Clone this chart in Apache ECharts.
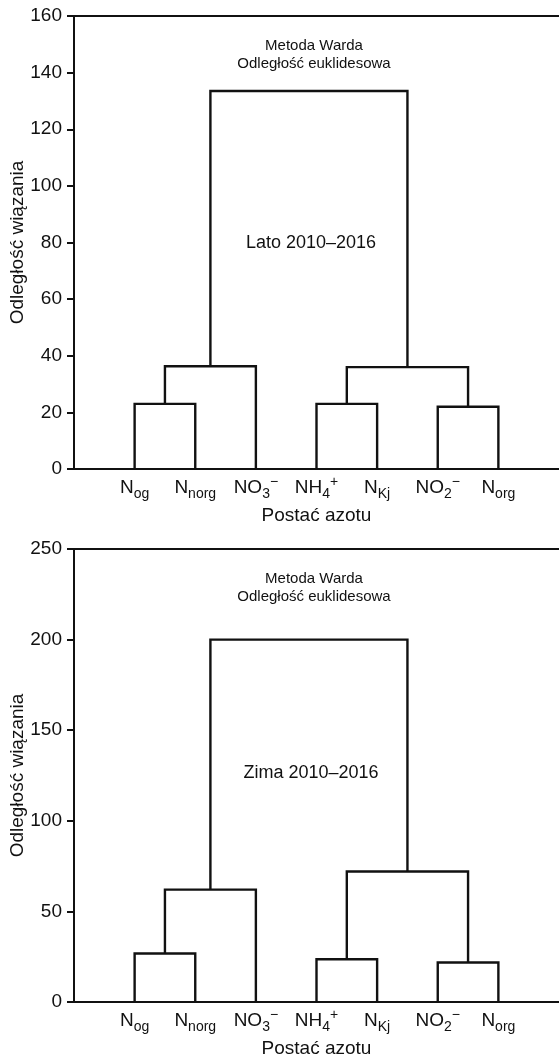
<!DOCTYPE html>
<html>
<head>
<meta charset="utf-8">
<script src="https://cdn.jsdelivr.net/npm/echarts@6/dist/echarts.min.js"></script>
<style>
html,body{margin:0;padding:0;background:#fff;}
#chart{width:559px;height:1059px;}
</style>
</head>
<body>
<div id="chart"></div>
<script>
// Leaves (order along the x axis)
const categories = ['Nog', 'Nnorg', 'NO3-', 'NH4+', 'NKj', 'NO2-', 'Norg'];
const tickLabels = [
  '{n|N}{s|og}',
  '{n|N}{s|norg}',
  '{n|NO}{s|3}{p|−}',
  '{n|NH}{s|4}{p|+}',
  '{n|N}{s|Kj}',
  '{n|NO}{s|2}{p|−}',
  '{n|N}{s|org}'
];
// Linkage: [left node, right node, linkage distance]; leaves are 0..6, new clusters 7..12
const summerLinkage = [
  [0, 1, 23.0],
  [3, 4, 23.0],
  [5, 6, 22.0],
  [7, 2, 36.3],
  [8, 9, 36.0],
  [10, 11, 133.5]
];
const winterLinkage = [
  [0, 1, 26.8],
  [3, 4, 23.6],
  [5, 6, 21.8],
  [7, 2, 62.0],
  [8, 9, 72.0],
  [10, 11, 200.0]
];
const summerTicks = [0, 20, 40, 60, 80, 100, 120, 140, 160];
const winterTicks = [0, 50, 100, 150, 200, 250];

const FONT = "'Liberation Sans', Arial, Helvetica, sans-serif";
const INK = '#111';

function dendroSegments(linkage) {
  const n = categories.length;
  const pos = {}; const h = {};
  for (let i = 0; i < n; i++) { pos[i] = i + 1; h[i] = 0; }
  const data = [];
  linkage.forEach((m, k) => {
    const id = n + k;
    const [a, b, d] = m;
    data.push({ coords: [[pos[a], h[a]], [pos[a], d], [pos[b], d], [pos[b], h[b]]] });
    pos[id] = (pos[a] + pos[b]) / 2;
    h[id] = d;
  });
  return data;
}

const richLabel = {
  n: { fontSize: 19, fontFamily: FONT, color: INK, lineHeight: 26, verticalAlign: 'middle' },
  s: { fontSize: 14, fontFamily: FONT, color: INK, lineHeight: 12, verticalAlign: 'bottom' },
  p: { fontSize: 14, fontFamily: FONT, color: INK, lineHeight: 10, verticalAlign: 'top' }
};

function xAxes(gi) {
  return [{
    type: 'value', gridIndex: gi, min: 0, max: 8, interval: 1,
    name: 'Postać azotu', nameLocation: 'middle', nameGap: 37, nameMoveOverlap: false,
    nameTextStyle: { fontSize: 19, fontFamily: FONT, color: INK },
    axisLine: { lineStyle: { color: INK, width: 2 } },
    axisTick: { show: false },
    splitLine: { show: false },
    axisLabel: {
      margin: 6,
      formatter: v => (v >= 1 && v <= categories.length) ? tickLabels[v - 1] : '',
      rich: richLabel
    }
  }, {
    type: 'value', gridIndex: gi, min: 0, max: 8, position: 'top',
    axisLine: { lineStyle: { color: INK, width: 2 } },
    axisTick: { show: false }, axisLabel: { show: false }, splitLine: { show: false }
  }];
}

function yAxis(gi, ticks) {
  return {
    type: 'value', gridIndex: gi, min: ticks[0], max: ticks[ticks.length - 1],
    interval: ticks[1] - ticks[0],
    name: 'Odległość wiązania', nameLocation: 'middle', nameGap: 47, nameMoveOverlap: false,
    nameTextStyle: { fontSize: 19, fontFamily: FONT, color: INK },
    axisLine: { show: true, lineStyle: { color: INK, width: 2 } },
    axisTick: { show: true, length: 7, lineStyle: { color: INK, width: 2 } },
    axisLabel: { margin: 12, fontSize: 19, fontFamily: FONT, color: INK },
    splitLine: { show: false }
  };
}

const chart = echarts.init(document.getElementById('chart'));
chart.setOption({
  backgroundColor: '#fff',
  animation: false,
  grid: [
    { left: 74, top: 16, width: 485, height: 453, containLabel: false, outerBoundsMode: 'none' },
    { left: 74, top: 549, width: 485, height: 453, containLabel: false, outerBoundsMode: 'none' }
  ],
  xAxis: [...xAxes(0), ...xAxes(1)],
  yAxis: [yAxis(0, summerTicks), yAxis(1, winterTicks)],
  series: [
    { type: 'lines', coordinateSystem: 'cartesian2d', xAxisIndex: 0, yAxisIndex: 0, polyline: true,
      lineStyle: { color: INK, width: 2.4, opacity: 1 }, data: dendroSegments(summerLinkage) },
    { type: 'lines', coordinateSystem: 'cartesian2d', xAxisIndex: 2, yAxisIndex: 1, polyline: true,
      lineStyle: { color: INK, width: 2.4, opacity: 1 }, data: dendroSegments(winterLinkage) }
  ],
  graphic: [
    { type: 'text', x: 314, y: 37, style: { text: 'Metoda Warda\nOdległość euklidesowa', fontSize: 15, lineHeight: 18, fontFamily: FONT, fill: INK, textAlign: 'center' } },
    { type: 'text', x: 314, y: 570, style: { text: 'Metoda Warda\nOdległość euklidesowa', fontSize: 15, lineHeight: 18, fontFamily: FONT, fill: INK, textAlign: 'center' } },
    { type: 'text', x: 311, y: 243, style: { text: 'Lato 2010–2016', fontSize: 18, fontFamily: FONT, fill: INK, textAlign: 'center', textVerticalAlign: 'middle' } },
    { type: 'text', x: 311, y: 773, style: { text: 'Zima 2010–2016', fontSize: 18, fontFamily: FONT, fill: INK, textAlign: 'center', textVerticalAlign: 'middle' } }
  ]
});
</script>
</body>
</html>
